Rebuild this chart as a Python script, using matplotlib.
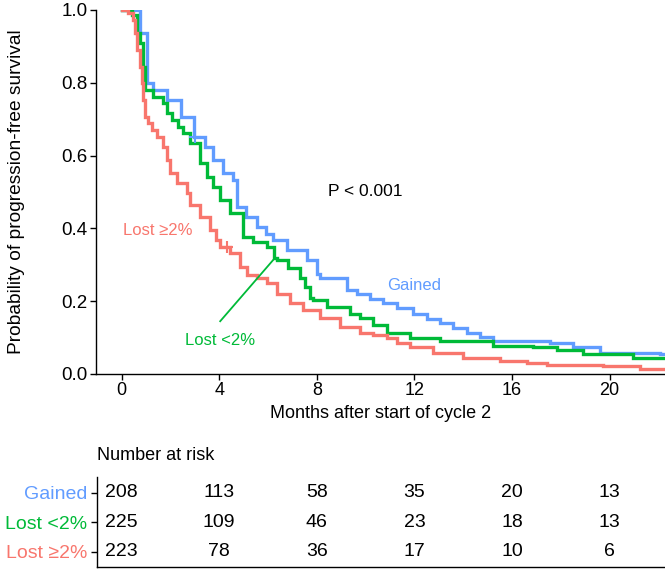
import matplotlib
matplotlib.use("Agg")
import matplotlib.pyplot as plt

plt.rcParams['font.family'] = ['Liberation Sans', 'DejaVu Sans']

# Kaplan-Meier step points (months, survival probability)
gained_t = [0, 0.47, 0.76, 1.05, 1.29, 1.86, 2.44, 2.97, 3.42, 3.75, 4.16, 4.57, 4.73, 5.1, 5.55,
            5.9, 6.21, 6.78, 7.60, 8.01, 8.14, 9.24, 9.65, 10.2, 10.72, 11.3, 11.95, 12.5,
            13.05, 13.6, 14.16, 14.7, 15.22, 17.56, 18.50, 19.61, 22.07, 22.5]
gained_s = [1.0, 1.0, 0.937, 0.80, 0.78, 0.752, 0.706, 0.651, 0.623, 0.588, 0.552, 0.532, 0.458,
            0.43, 0.403, 0.385, 0.367, 0.340, 0.312, 0.276, 0.265, 0.230, 0.221, 0.207, 0.194,
            0.18, 0.166, 0.152, 0.139, 0.126, 0.114, 0.103, 0.092, 0.084, 0.073, 0.059, 0.054,
            0.046]

lost_small_t = [0, 0.43, 0.64, 0.76, 0.88, 0.96, 1.29, 1.70, 1.86, 2.07, 2.32, 2.52, 2.81, 3.22,
                3.50, 3.75, 4.04, 4.45, 4.98, 5.4, 5.96, 6.25, 6.37, 6.8, 7.32, 7.5, 7.73, 7.85,
                8.42, 9.36, 9.77, 10.3, 10.88, 11.82, 13.05, 15.22, 16.86, 17.85, 18.91, 20.31,
                20.96, 22.5]
lost_small_s = [1.0, 0.986, 0.937, 0.909, 0.843, 0.780, 0.761, 0.744, 0.716, 0.697, 0.678, 0.661,
                0.634, 0.579, 0.540, 0.513, 0.477, 0.441, 0.376, 0.362, 0.348, 0.318, 0.312,
                0.29, 0.265, 0.24, 0.210, 0.202, 0.183, 0.166, 0.155, 0.135, 0.114, 0.100,
                0.092, 0.078, 0.073, 0.065, 0.056, 0.054, 0.043, 0.043]

lost_big_t = [0, 0.27, 0.47, 0.55, 0.64, 0.76, 0.84, 0.88, 0.96, 1.09, 1.25, 1.45, 1.70, 1.86,
              1.99, 2.27, 2.68, 2.81, 3.22, 3.63, 3.87, 4.04, 4.45, 4.86, 5.14, 5.55, 5.96,
              6.37, 6.91, 7.44, 8.14, 8.95, 9.77, 10.3, 10.88, 11.3, 11.82, 12.77, 14.00,
              15.51, 16.62, 17.44, 19.73, 21.25, 22.5]
lost_big_s = [1.0, 0.992, 0.972, 0.937, 0.890, 0.843, 0.800, 0.752, 0.706, 0.689, 0.670, 0.651,
              0.623, 0.588, 0.552, 0.524, 0.497, 0.465, 0.431, 0.395, 0.367, 0.348, 0.332,
              0.293, 0.271, 0.265, 0.249, 0.221, 0.194, 0.175, 0.153, 0.128, 0.114, 0.106,
              0.098, 0.085, 0.073, 0.059, 0.045, 0.037, 0.031, 0.026, 0.023, 0.015, 0.015]

# censor marks
censor_gained = (3.0, 0.651)
censor_lost_big = (4.3, 0.349)

groups = ['Gained', 'Lost <2%', 'Lost ≥2%']
colors = ['#619CFF', '#00BA38', '#F8766D']

risk_times = [0, 4, 8, 12, 16, 20]
risk_gained = [208, 113, 58, 35, 20, 13]
risk_lost_small = [225, 109, 46, 23, 18, 13]
risk_lost_big = [223, 78, 36, 17, 10, 6]

W, H = 665, 572
fig = plt.figure(figsize=(W / 100, H / 100), dpi=100)

# main KM plot
ax = fig.add_axes([96 / W, 1 - 374 / H, 1 - 96 / W, (374 - 10) / H])
series = [(gained_t, gained_s), (lost_small_t, lost_small_s), (lost_big_t, lost_big_s)]
for (t, s), c in zip(series, colors):
    ax.plot(t, s, drawstyle='steps-post', color=c, linewidth=2.4, clip_on=True,
            solid_joinstyle='miter')
ax.plot(*censor_gained, marker='+', color=colors[0], markersize=8, markeredgewidth=1.5)
ax.plot(*censor_lost_big, marker='+', color=colors[2], markersize=8, markeredgewidth=1.5)

ax.set_xlim(-1.05, 22.27)
ax.set_ylim(0, 1.0)
ax.set_xticks(risk_times)
ax.set_yticks([0, 0.2, 0.4, 0.6, 0.8, 1.0])
ax.set_yticklabels(['0.0', '0.2', '0.4', '0.6', '0.8', '1.0'])
for side in ['top', 'right']:
    ax.spines[side].set_visible(False)
for side in ['left', 'bottom']:
    ax.spines[side].set_linewidth(1.0)
ax.tick_params(labelsize=13, length=4, width=1.0, pad=2)
ax.tick_params(axis='y', labelsize=13.5)
ax.set_xlabel('Months after start of cycle 2', fontsize=13, labelpad=4)
ax.set_ylabel('Probability of progression-free survival', fontsize=13.8, labelpad=26)

ax.text(10.0, 0.50, 'P < 0.001', fontsize=12.5, ha='center', va='center')
ax.text(12.0, 0.243, 'Gained', fontsize=12, color=colors[0], ha='center', va='center')
ax.text(1.5, 0.395, 'Lost ≥2%', fontsize=12, color=colors[2], ha='center', va='center')
ax.text(4.05, 0.092, 'Lost <2%', fontsize=12, color=colors[1], ha='center', va='center')
ax.plot([4.04, 6.26], [0.145, 0.317], color=colors[1], linewidth=1.3)

# risk table
axt = fig.add_axes([97 / W, 1 - 567 / H, 1 - 97 / W, (567 - 477) / H])
axt.set_xlim(-1.05 + (97 - 96) / 24.4, 22.27)
axt.set_ylim(0.49, 3.54)
rows = [risk_gained, risk_lost_small, risk_lost_big]
for i, vals in enumerate(rows):
    y = 3 - i
    for t, v in zip(risk_times, vals):
        axt.text(t, y, str(v), fontsize=14, ha='center', va='center')
axt.set_xticks([])
axt.set_yticks([3, 2, 1])
axt.set_yticklabels(groups, fontsize=14)
for lab, c in zip(axt.get_yticklabels(), colors):
    lab.set_color(c)
axt.tick_params(axis='y', length=4, width=1.0, pad=3)
for side in ['top', 'right']:
    axt.spines[side].set_visible(False)
for side in ['left', 'bottom']:
    axt.spines[side].set_linewidth(1.0)

fig.text(97 / W, 1 - 455 / H, 'Number at risk', fontsize=13, ha='left', va='center')

fig.savefig('out.png', dpi=100)
